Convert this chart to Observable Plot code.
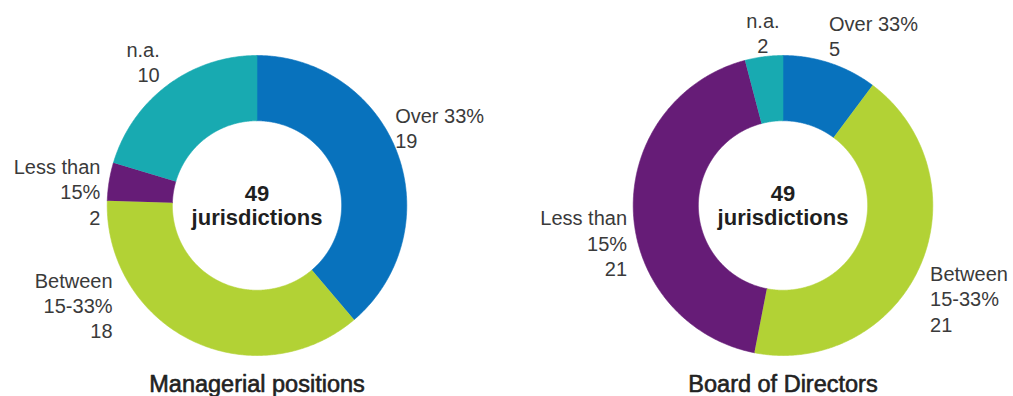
<!DOCTYPE html>
<html>
<head>
<meta charset="utf-8">
<script src="https://cdn.jsdelivr.net/npm/d3@7"></script>
<script src="https://cdn.jsdelivr.net/npm/@observablehq/plot@0.6"></script>
<style>
  html, body { margin: 0; padding: 0; background: #ffffff; }
  #chart { width: 1013px; height: 396px; overflow: hidden; }
</style>
</head>
<body>
<div id="chart"></div>
<script>
// ---- Data ----
const charts = ["Managerial positions", "Board of Directors"];
const categories = ["Over 33%", "Between 15-33%", "Less than 15%", "n.a."];
const categoryLabels = ["Over 33%", "Between\n15-33%", "Less than\n15%", "n.a."];
const managerialValues = [19, 18, 2, 10];
const boardValues = [5, 21, 21, 2];
const colors = ["#0872bd", "#b2d235", "#661c77", "#18aab1"];
const centerCaption = "jurisdictions";

// ---- Layout (label placement relative to slice mid-angle: [angle nudge in degrees, radius]) ----
const labelLayout = {
  "Managerial positions": [[-9.3, 1.06], [29.8, 1.17], [-3.9, 1.05], [2.7, 1.16]],
  "Board of Directors": [[-3.2, 1.175], [8.3, 1.16], [-11.5, 1.07], [0.7, 1.16]]
};
const innerR = 0.565, outerR = 1;

// ---- Build tables ----
const valuesByChart = {"Managerial positions": managerialValues, "Board of Directors": boardValues};
const pie = d3.pie().sort(null).value(d => d);
const arcPoints = [];
const labels = [];
const totals = [];
for (const chart of charts) {
  const vals = valuesByChart[chart];
  totals.push({chart, text: `${d3.sum(vals)}\n${centerCaption}`});
  pie(vals).forEach((a, i) => {
    const key = chart + "|" + categories[i];
    const step = Math.PI / 360;
    const n = Math.max(2, Math.ceil((a.endAngle - a.startAngle) / step) + 1);
    const angs = d3.range(n).map(k => a.startAngle + (a.endAngle - a.startAngle) * k / (n - 1));
    for (const t of angs) arcPoints.push({chart, key, category: categories[i], x: outerR * Math.sin(t), y: outerR * Math.cos(t)});
    for (const t of angs.slice().reverse()) arcPoints.push({chart, key, category: categories[i], x: innerR * Math.sin(t), y: innerR * Math.cos(t)});
    const [nudge, r] = labelLayout[chart][i];
    const mid = (a.startAngle + a.endAngle) / 2 + nudge * Math.PI / 180;
    const s = Math.sin(mid);
    labels.push({
      chart, category: categories[i],
      text: `${categoryLabels[i]}\n${vals[i]}`,
      x: r * Math.sin(mid), y: r * Math.cos(mid),
      anchor: s > 0.2 ? "start" : s < -0.2 ? "end" : "middle"
    });
  });
}

// ---- Plot ----
const W = 1013, H = 396, pxPerUnit = 150;
const mL = 45.2, mR = 19.2, mT = 0, mB = 30;
const bandW = (W - mL - mR) / 1.8 * 0.8;
const xHalf = bandW / 2 / pxPerUnit;
const cyPx = 205;
const yMax = (cyPx - mT) / pxPerUnit;
const yMin = -((H - mB) - cyPx) / pxPerUnit;

const labelMark = anchor => Plot.text(labels.filter(d => d.anchor === anchor), {
  fx: "chart", x: "x", y: "y", text: "text",
  textAnchor: anchor, lineAnchor: "middle", lineHeight: 1.27,
  fontSize: 20, fill: "#3a3a3a"
});

const plot = Plot.plot({
  width: W, height: H,
  marginLeft: mL, marginRight: mR, marginTop: mT, marginBottom: mB,
  style: {fontFamily: "'Liberation Sans', Arial, sans-serif", background: "#ffffff", overflow: "visible"},
  fx: {domain: charts, paddingInner: 0.2, paddingOuter: 0, axis: null},
  x: {domain: [-xHalf, xHalf], axis: null},
  y: {domain: [yMin, yMax], axis: null},
  color: {domain: categories, range: colors},
  marks: [
    Plot.line(arcPoints, {fx: "chart", x: "x", y: "y", z: "key", fill: "category", stroke: "category", strokeWidth: 0.6, curve: "linear"}),
    labelMark("start"), labelMark("end"), labelMark("middle"),
    Plot.text(totals, {fx: "chart", x: () => 0, y: () => 0, text: "text", lineAnchor: "middle", lineHeight: 1.1, fontSize: 22, fontWeight: "bold", fill: "#1f1f1f"}),
    Plot.text(charts, {fx: d => d, text: d => d, frameAnchor: "bottom", dy: 18, lineAnchor: "middle", fontSize: 23.5, fill: "#222", stroke: "#222", strokeWidth: 0.6})
  ]
});
document.getElementById("chart").appendChild(plot);
</script>
</body>
</html>
